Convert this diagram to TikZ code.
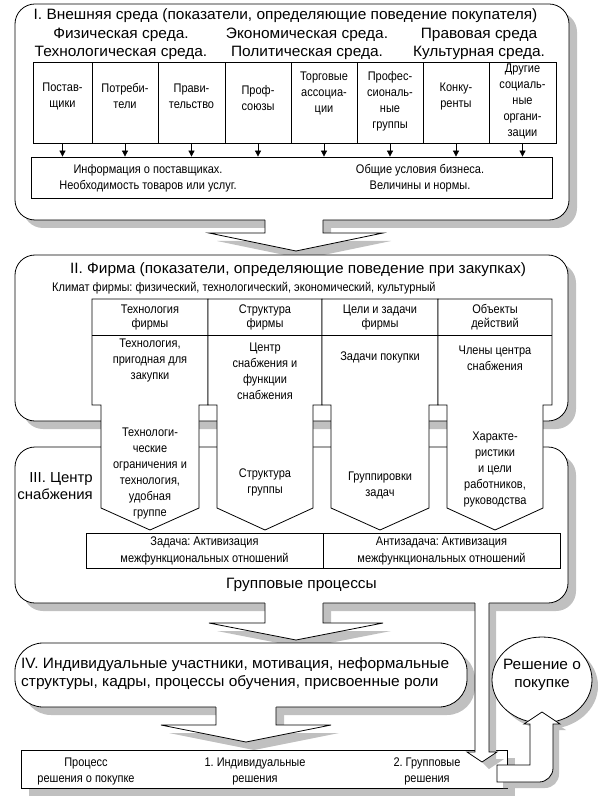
\documentclass[tikz,border=0pt]{standalone}
\usepackage{fontspec}
\setmainfont{Liberation Sans}
\newfontfamily\narrowf[FakeStretch=0.88]{Liberation Sans}
\newfontfamily\bigf[FakeStretch=1.03]{Liberation Sans}
\usetikzlibrary{arrows.meta,shapes.geometric}
\definecolor{shgray}{RGB}{192,192,192}
\tikzset{
  shd/.style={fill=shgray,draw=none},
  frame/.style={draw=black,fill=white,line width=0.8pt},
  edge/.style={draw=black,line width=0.8pt},
  big/.style={font=\bigf\fontsize{15}{18}\selectfont,inner sep=0pt,align=center},
  nar/.style={font=\narrowf\fontsize{12.5}{16}\selectfont,inner sep=0pt,align=center},
  narh/.style={font=\narrowf\fontsize{12.5}{14}\selectfont,inner sep=0pt,align=center},
  cell/.style={draw=black,line width=0.8pt,fill=white,inner sep=0pt,minimum height=81pt},
  zcell/.style={draw=black,line width=0.8pt,fill=white,inner sep=0pt,minimum height=35pt,minimum width=237pt,
     font=\narrowf\fontsize{12.5}{17}\selectfont,align=center},
  smallarr/.style={-{Triangle[length=6pt,width=6pt]},line width=0.8pt},
}
\begin{document}
\frenchspacing
\begin{tikzpicture}[x=1pt,y=-1pt]
\useasboundingbox (0,0) rectangle (600,799);
\fill[white] (0,0) rectangle (600,799);

% ---------- Box I ----------
\fill[shd,rounded corners=20pt] (23,12) rectangle (577,228);
\draw[frame,rounded corners=20pt] (15,4) rectangle (569,220);
\node[big] (t1) at (285.5,16) {I. Внешняя среда (показатели, определяющие поведение покупателя)};
\node[big] (e1) at (121,43.5) {Физическая среда.\\Технологическая среда.};
\node[big] (e2) at (307,43.5) {Экономическая среда.\\Политическая среда.};
\node[big] (e3) at (479,43.5) {Правовая среда\\Культурная среда.};

\node[cell,minimum width=59pt] (b1) at (62.5,102.5) {};
\node[cell,minimum width=66pt] (b2) at (125,102.5) {};
\node[cell,minimum width=67pt] (b3) at (191.5,102.5) {};
\node[cell,minimum width=66pt] (b4) at (258,102.5) {};
\node[cell,minimum width=66pt] (b5) at (324,102.5) {};
\node[cell,minimum width=66pt] (b6) at (390,102.5) {};
\node[cell,minimum width=66pt] (b7) at (456,102.5) {};
\node[cell,minimum width=67pt] (b8) at (522.5,102.5) {};
\node[nar] (l1) at (62.5,96) {Постав-\\щики};
\node[nar] (l2) at (125,96) {Потреби-\\тели};
\node[nar] (l3) at (191.5,96) {Прави-\\тельство};
\node[nar] (l4) at (258,98) {Проф-\\союзы};
\node[nar] (l5) at (324,93) {Торговые\\ассоциа-\\ции};
\node[nar] (l6) at (390,101) {Профес-\\сиональ-\\ные\\группы};
\node[nar] (l7) at (456,96) {Конку-\\ренты};
\node[nar] (l8) at (522.5,101) {Другие\\социаль-\\ные\\органи-\\зации};

\node[draw,line width=0.8pt,fill=white,inner sep=0pt,minimum width=521pt,minimum height=41pt] (info) at (291.5,177.5) {};
\node[nar] (i1) at (148,178) {Информация о поставщиках.\\Необходимость товаров или услуг.};
\node[nar] (i2) at (420,178) {Общие условия бизнеса.\\Величины и нормы.};
\foreach \b in {b1,b2,b3,b4,b5,b6,b7,b8}
  \draw[smallarr] (\b.south) -- (\b.south |- info.north);

% ---------- Arrow I -> II ----------
\fill[shd] (273,222) -- (331,222) -- (331,241) -- (391,241) -- (304,259) -- (217,241) -- (273,241) -- cycle;
\fill[white] (265,218) -- (323,218) -- (323,233) -- (383,233) -- (296,251) -- (209,233) -- (265,233) -- cycle;
\draw[edge] (265,220) -- (265,233) -- (209,233) -- (296,251) -- (383,233) -- (323,233) -- (323,220);

% ---------- Box II ----------
\fill[shd,rounded corners=20pt] (23,263) rectangle (576,429);
\draw[frame,rounded corners=20pt] (15,255) rectangle (568,421);
\node[big] (t2) at (298,270) {II. Фирма (показатели, определяющие поведение при закупках)};
\node[nar,anchor=west] (klim) at (52,288) {Климат фирмы: физический, технологический, экономический, культурный};

% ---------- Box III ----------
\fill[shd,rounded corners=20pt] (23,455) rectangle (576,611);
\draw[frame,rounded corners=20pt] (15,447) rectangle (568,603);
\node[big,align=right,anchor=east,font=\bigf\fontsize{14.5}{17}\selectfont] (t3) at (93,486.5) {III. Центр\\снабжения};
\node[big] (gp) at (301.5,585) {Групповые процессы};

% ---------- Columns ----------
\draw[frame] (92,299) -- (208,299) -- (208,405) -- (199,405) -- (199,508) -- (150,530) -- (101,508) -- (101,405) -- (92,405) -- cycle;
\draw[frame] (208,299) -- (322,299) -- (322,405) -- (313,405) -- (313,508) -- (265,530) -- (217,508) -- (217,405) -- (208,405) -- cycle;
\draw[frame] (322,299) -- (438,299) -- (438,405) -- (429,405) -- (429,508) -- (380,530) -- (331,508) -- (331,405) -- (322,405) -- cycle;
\draw[frame] (438,299) -- (552,299) -- (552,405) -- (543,405) -- (543,508) -- (495,530) -- (447,508) -- (447,405) -- (438,405) -- cycle;
\draw[edge] (92,335) -- (552,335);

\node[narh] (h1) at (150,317) {Технология\\фирмы};
\node[narh] (h2) at (265,317) {Структура\\фирмы};
\node[narh] (h3) at (380,317) {Цели и задачи\\фирмы};
\node[narh] (h4) at (495,317) {Объекты\\действий};

\node[nar] (c1) at (150,360) {Технология,\\пригодная для\\закупки};
\node[nar] (c2) at (265,371) {Центр\\снабжения и\\функции\\снабжения};
\node[nar] (c3) at (380,357) {Задачи покупки};
\node[nar] (c4) at (495,358) {Члены центра\\снабжения};

\node[nar] (p1) at (150,473.5) {Технологи-\\ческие\\ограничения и\\технология,\\удобная\\группе};
\node[nar] (p2) at (265,482.5) {Структура\\группы};
\node[nar] (p3) at (380,485.5) {Группировки\\задач};
\node[nar] (p4) at (495,469.5) {Характе-\\ристики\\и цели\\работников,\\руководства};

\node[zcell] (z1) at (204.5,550.5) {Задача: Активизация\\межфункциональных отношений};
\node[zcell] (z2) at (441.5,550.5) {Антизадача: Активизация\\межфункциональных отношений};

% ---------- Arrow III -> IV ----------
\fill[shd] (273,605) -- (331,605) -- (331,631) -- (391,631) -- (304,648) -- (217,631) -- (273,631) -- cycle;
\fill[white] (265,601) -- (323,601) -- (323,623) -- (383,623) -- (296,640) -- (209,623) -- (265,623) -- cycle;
\draw[edge] (265,603) -- (265,623) -- (209,623) -- (296,640) -- (383,623) -- (323,623) -- (323,603);

% ---------- Box IV ----------
\fill[shd,rounded corners=28pt] (23,651) rectangle (475,715);
\draw[frame,rounded corners=28pt] (15,643) rectangle (467,707);
\node[big,align=left,anchor=west] (t4) at (21,674) {IV. Индивидуальные участники, мотивация, неформальные\\структуры, кадры, процессы обучения, присвоенные роли};

% ---------- Arrow IV -> bottom ----------
\fill[shd] (224,709) -- (284,709) -- (284,733) -- (339,733) -- (254,750) -- (169,733) -- (224,733) -- cycle;
\fill[white] (216,705) -- (276,705) -- (276,725) -- (331,725) -- (246,742) -- (161,725) -- (216,725) -- cycle;
\draw[edge] (216,707) -- (216,725) -- (161,725) -- (246,742) -- (331,725) -- (276,725) -- (276,707);

% ---------- Bottom box ----------
\fill[shd] (29,758) rectangle (515,796);
\node[draw,line width=0.8pt,fill=white,inner sep=0pt,minimum width=486pt,minimum height=38pt] (fin) at (264,769) {};
\node[nar] (q1) at (86,771.5) {Процесс\\решения о покупке};
\node[nar] (q2) at (255,771.5) {1. Индивидуальные\\решения};
\node[nar] (q3) at (427,771.5) {2. Групповые\\решения};

% ---------- Long arrow III -> bottom ----------
\fill[shd] (489,605) -- (496,605) -- (496,759) -- (504,759) -- (489,769) -- (482,762) -- cycle;
\fill[white] (475,601) -- (489,601) -- (489,752) -- (497,752) -- (482,762) -- (467,752) -- (475,752) -- cycle;
\draw[edge] (475,603) -- (475,752) -- (467,752) -- (482,762) -- (497,752) -- (489,752) -- (489,603);

% ---------- Decision ellipse ----------
\fill[shd] (548,686) ellipse [x radius=50pt, y radius=43pt];
\node[draw,line width=0.8pt,fill=white,ellipse,inner sep=0pt,minimum width=100pt,minimum height=86pt] (dec) at (542,680) {};
\node[big] (dect) at (542,675) {Решение о\\покупке};

% ---------- U arrow ----------
\fill[shd] (503,771) -- (536,771) -- (536,730) -- (531,730) -- (549,719) -- (566,730) -- (559,730) -- (559,774) arc[start angle=0,end angle=-90,radius=14pt] -- (503,788) -- cycle;
\draw[frame] (497,765) -- (530,765) -- (530,724) -- (524,724) -- (542,712) -- (560,724) -- (553,724) -- (553,768) arc[start angle=0,end angle=-90,radius=14pt] -- (497,782) -- cycle;
\end{tikzpicture}
\end{document}
